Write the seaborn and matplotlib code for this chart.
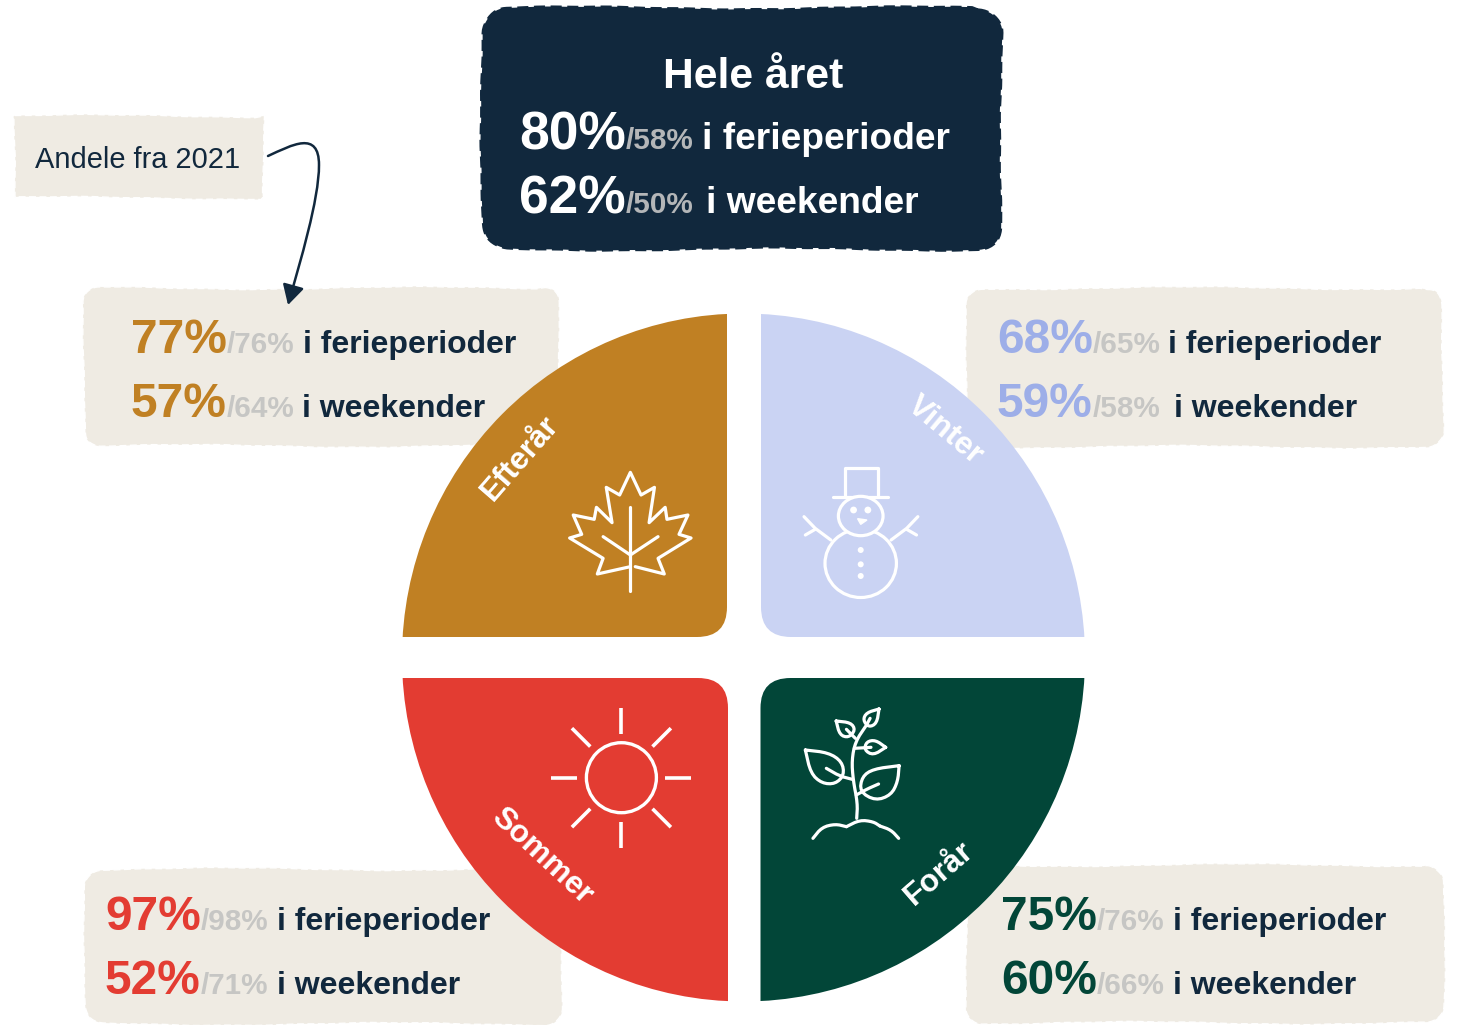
import numpy as np
import seaborn as sns
import matplotlib.pyplot as plt
from matplotlib.patches import Ellipse, FancyArrowPatch, FancyBboxPatch, Circle
from matplotlib.path import Path
from matplotlib.transforms import Affine2D


# data
seasons = ["Forår", "Sommer", "Efterår", "Vinter"]
shares = [25, 25, 25, 25]
holiday = [75, 97, 77, 68]
holiday_2021 = [76, 98, 76, 65]
weekend = [60, 52, 57, 59]
weekend_2021 = [66, 71, 64, 58]
year_holiday = [80, 58]
year_weekend = [62, 50]
holiday_text = "i ferieperioder"
weekend_text = "i weekender"

NAVY = "#11283D"
BEIGE = "#EFEBE3"
WHITE = "#FFFFFF"
GREY = "#C6C6C4"
wedge_colors = ["#024638", "#E33C32", "#C08023", "#CAD3F3"]
number_colors = ["#024638", "#E33C32", "#C08023", "#9DAEE8"]

sns.set_theme(style="white")
plt.rcParams["font.family"] = ["Liberation Sans", "DejaVu Sans"]

fig = plt.figure(figsize=(14.63, 10.25), dpi=100)
ax = fig.add_axes([0, 0, 1, 1])


def rough_outline(x0, y0, x1, y1, r, phase):
    # rounded box with a slightly torn looking edge
    corners = [(x1 - r, y0 + r, -90), (x1 - r, y1 - r, 0), (x0 + r, y1 - r, 90), (x0 + r, y0 + r, 180)]
    xs, ys = [], []
    for cx, cy, start in corners:
        a = np.radians(np.linspace(start, start + 90, 12))
        xs += list(cx + r * np.cos(a))
        ys += list(cy + r * np.sin(a))
    xs, ys = np.array(xs + xs[:1]), np.array(ys + ys[:1])
    seg = np.hypot(np.diff(xs), np.diff(ys))
    n = np.maximum((seg / 6).astype(int), 1)
    px = np.concatenate([np.linspace(xs[i], xs[i + 1], n[i], endpoint=False) for i in range(len(n))])
    py = np.concatenate([np.linspace(ys[i], ys[i + 1], n[i], endpoint=False) for i in range(len(n))])
    t = np.arange(len(px)) * 6.0
    px = px + 1.2 * np.sin(t / 41 + phase) + 0.3 * np.sin(t / 9 + phase * 2)
    py = py + 1.4 * np.sin(t / 53 + phase * 3) + 0.3 * np.sin(t / 11 + phase)
    return np.append(px, px[0]), np.append(py, py[0])


def rough_box(x0, y0, x1, y1, r, fill, edge, phase, edge_lw=1.0):
    px, py = rough_outline(x0, y0, x1, y1, r, phase)
    ax.fill(px, py, color=fill, lw=0, zorder=1)
    ax.plot(px, py, color=edge, lw=edge_lw, ls=(0, (5, 2.5)), zorder=1.5)


rough_box(482, 8, 1001, 249, 24, NAVY, NAVY, 0.4, 1.6)
rough_box(14, 116, 264, 198, 2, BEIGE, WHITE, 1.1)
rough_box(84, 288, 560, 446, 16, BEIGE, WHITE, 1.9)
rough_box(967, 288, 1443, 447, 16, BEIGE, WHITE, 2.6)
rough_box(85, 869, 561, 1024, 16, BEIGE, WHITE, 3.2)
rough_box(967, 865, 1444, 1023, 16, BEIGE, WHITE, 4.4)

# pie, every quarter cut back to leave the white cross and the round inner corner
wedges, _ = ax.pie(shares, colors=sns.color_palette(wedge_colors), center=(743.5, 657.5), radius=344,
                   startangle=0, frame=True, wedgeprops={"linewidth": 0, "zorder": 2})
quarters = [(760.5, 678, 1300, 1200), (200, 678, 728, 1200), (200, 100, 727, 637), (761, 100, 1300, 637)]
squeeze = Affine2D().translate(-743.5, 0).scale(341.5 / 344, 1).translate(743.5, 0)
for w, (x0, y0, x1, y1) in zip(wedges, quarters):
    w.set_zorder(2)
    w.set_transform(squeeze + ax.transData)
    clip = FancyBboxPatch((x0 + 30, y0 + 30), x1 - x0 - 60, y1 - y0 - 60, boxstyle="round,pad=30,rounding_size=30",
                          transform=ax.transData)
    w.set_clip_on(True)
    w.set_clip_path(clip)


def icon(zx, zy, left, top, smooth=0, lw=2.3):
    px = left + np.array(zx) / 2.24
    py = top + np.array(zy) / 3
    for _ in range(smooth):
        qx = np.column_stack([0.75 * px[:-1] + 0.25 * px[1:], 0.25 * px[:-1] + 0.75 * px[1:]]).ravel()
        qy = np.column_stack([0.75 * py[:-1] + 0.25 * py[1:], 0.25 * py[:-1] + 0.75 * py[1:]]).ravel()
        px = np.concatenate([px[:1], qx, px[-1:]])
        py = np.concatenate([py[:1], qy, py[-1:]])
    ax.plot(px, py, color="white", lw=lw, solid_capstyle="round", solid_joinstyle="round", zorder=3)


# maple leaf
icon([527, 592, 578, 652, 625, 645, 598, 594, 558, 570, 540, 516, 492, 462, 475, 440, 435, 388, 407, 380, 455, 442, 516],
     [800, 822, 775, 714, 703, 645, 658, 622, 668, 562, 585, 517, 585, 562, 668, 622, 658, 645, 703, 714, 775, 822, 800], 400, 300)
icon([516, 516], [620, 872], 400, 300)
icon([455, 516, 578], [710, 765, 710], 400, 300)

# snowman
cx = 400 + 1032 / 2.24
ax.add_patch(Ellipse((cx, 300 + 790 / 3), 160 / 2.24, 205 / 3, fc=wedge_colors[3], ec="white", lw=2.3, zorder=3))
ax.add_patch(Ellipse((cx, 300 + 648 / 3), 100 / 2.24, 118 / 3, fc=wedge_colors[3], ec="white", lw=2.3, zorder=3.1))
icon([997, 997, 1070, 1070], [588, 505, 505, 588], 400, 300)
icon([970, 1093], [590, 590], 400, 300)
icon([965, 930, 905], [720, 685, 650], 400, 300)
icon([930, 908], [688, 705], 400, 300)
icon([1100, 1135, 1160], [720, 685, 650], 400, 300)
icon([1135, 1157], [688, 705], 400, 300)
for zx, zy, size in [(1016, 630, 3.4), (1048, 630, 3.4), (1032, 750, 3), (1032, 793, 3), (1032, 828, 3)]:
    ax.add_patch(Circle((400 + zx / 2.24, 300 + zy / 3), size, fc="white", ec="none", zorder=3.2))
ax.fill(400 + np.array([1025, 1046, 1032]) / 2.24, 300 + np.array([656, 660, 673]) / 3, color="white", zorder=3.2)

# sun
ax.add_patch(Circle((621.4, 777.7), 35, fc="none", ec="white", lw=2.4, zorder=3))
for a in np.radians(np.arange(0, 360, 45)):
    ax.plot([621.4 + 44 * np.cos(a), 621.4 + 70 * np.cos(a)], [777.7 + 44 * np.sin(a), 777.7 + 70 * np.sin(a)],
            color="white", lw=2.6, solid_capstyle="butt", zorder=3)

# plant
t = 670
icon([1023, 1025, 1015, 1012, 1020, 1045], [445, 400, 330, 270, 215, 165], 400, t, 2)
icon([925, 945, 975, 1000], [505, 472, 462, 470], 400, t, 2)
icon([1000, 1030, 1060, 1075], [470, 450, 455, 468], 400, t, 2)
icon([1075, 1100, 1117], [468, 480, 505], 400, t, 2)
icon([908, 960, 990, 995, 975, 945, 920, 908], [240, 248, 275, 315, 342, 340, 310, 240], 400, t, 2)
icon([955, 985, 1013], [295, 318, 328], 400, t, 1)
icon([1118, 1060, 1035, 1030, 1065, 1100, 1115, 1118], [287, 297, 320, 365, 392, 375, 335, 287], 400, t, 2)
icon([1072, 1045, 1022], [342, 358, 375], 400, t, 1)
icon([1073, 1045, 1037, 1050, 1068, 1073], [117, 128, 150, 172, 160, 117], 400, t, 2)
icon([1053, 1045], [145, 165], 400, t)
icon([977, 1010, 1020, 1005, 985, 977], [153, 158, 180, 203, 195, 153], 400, t, 2)
icon([1000, 1020], [178, 205], 400, t)
icon([1088, 1065, 1045, 1040, 1060, 1088], [232, 210, 215, 240, 256, 232], 400, t, 2)
icon([1055, 1018], [232, 235], 400, t)

# season names on the wedges
name_pos = [(939, 873, 41), (542, 856, -43), (520, 458, 49), (945, 431, -40)]
for name, (x, y, rot) in zip(seasons, name_pos):
    ax.text(x, y, name, color="white", fontsize=22.8, fontweight="bold", rotation=rot,
            rotation_mode="anchor", ha="center", va="center", zorder=4)

renderer = fig.canvas.get_renderer()


def stat_line(x, y, now, before, label, label_x, color, grey, label_color, big, small, text_size):
    t1 = ax.text(x, y, f"{now}%", color=color, fontsize=big, fontweight="bold", va="baseline", zorder=5)
    x2 = x + t1.get_window_extent(renderer).width
    ax.text(x2, y, f"/{before}%", color=grey, fontsize=small, fontweight="bold", va="baseline", zorder=5)
    ax.text(label_x, y, label, color=label_color, fontsize=text_size, fontweight="bold", va="baseline", zorder=5)


# season boxes
box_x = [1001, 105, 131, 997]
box_y = [930, 930, 353, 353]
holiday_x = [1173, 277, 303, 1168]
weekend_x = [1173, 277, 302, 1174]
for i in range(4):
    stat_line(box_x[i], box_y[i], holiday[i], holiday_2021[i], holiday_text, holiday_x[i],
              number_colors[i], GREY, NAVY, 34.5, 21.3, 23)
    stat_line(box_x[i], box_y[i] + 64, weekend[i], weekend_2021[i], weekend_text, weekend_x[i],
              number_colors[i], GREY, NAVY, 34.5, 21.3, 23)

# whole year box
ax.text(753.5, 88, "Hele året", color="white", fontsize=30.7, fontweight="bold", ha="center", va="baseline", zorder=5)
stat_line(519, 149, year_holiday[0], year_holiday[1], holiday_text, 702, "white", "#B4B6B8", "white", 38.3, 21.3, 26.7)
stat_line(519, 213, year_weekend[0], year_weekend[1], weekend_text, 706, "white", "#B4B6B8", "white", 38.3, 21.3, 26.7)

# note and arrow
ax.text(35, 168, "Andele fra 2021", color=NAVY, fontsize=20.9, va="baseline", zorder=5)
arrow_path = Path([(268, 156), (292, 145), (319, 130), (319, 165), (319, 200), (300, 262), (288, 305)],
                  [Path.MOVETO, Path.CURVE4, Path.CURVE4, Path.CURVE4, Path.CURVE4, Path.CURVE4, Path.CURVE4])
ax.add_patch(FancyArrowPatch(path=arrow_path, arrowstyle="-|>,head_length=0.6,head_width=0.33", mutation_scale=20,
                             color=NAVY, lw=1.8, zorder=6, shrinkA=0, shrinkB=0))

ax.set_xlim(0, 1463)
ax.set_ylim(1025, 0)
ax.axis("off")
fig.savefig("out.png", dpi=100, facecolor="white")
